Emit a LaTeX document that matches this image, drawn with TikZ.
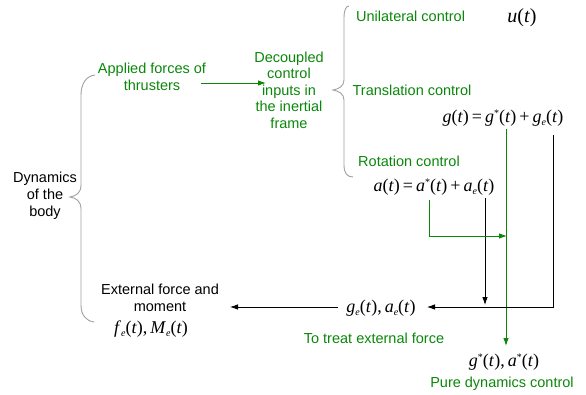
\documentclass[tikz,border=0pt]{standalone}
\usepackage{fontspec}
\setmainfont{Liberation Sans}
\newfontfamily\tms{Liberation Serif}
\usetikzlibrary{arrows.meta}
\definecolor{gr}{RGB}{10,135,10}
\definecolor{brc}{RGB}{160,160,160}
\newcommand{\vv}[1]{\textit{#1}}
\newcommand{\sbs}[1]{\raisebox{-0.35ex}{\fontsize{10}{10}\selectfont\itshape #1}}
\newcommand{\sps}[1]{\raisebox{0.75ex}{\fontsize{10}{10}\selectfont #1}}
\tikzset{
  gtext/.style={text=gr, align=center, font=\fontsize{14.5}{16.5}\selectfont, inner sep=0pt},
  btext/.style={text=black, align=center, font=\fontsize{14.5}{17}\selectfont, inner sep=0pt},
  mtext/.style={text=black, font=\fontsize{18}{18}\selectfont\tms, inner sep=0pt},
  gline/.style={draw=gr, line width=0.9pt},
  bline/.style={draw=black, line width=0.8pt},
  tip/.style={-{Latex[length=8pt,width=5.5pt]}},
  bracestyle/.style={draw=brc, line width=0.9pt}
}
\begin{document}
\begin{tikzpicture}[x=1pt,y=-1pt]
\useasboundingbox (0,0) rectangle (586,395);
% braces
\draw[bracestyle] (95,75) .. controls (86,76) and (81,84) .. (81,95) -- (81,185)
  .. controls (81,193) and (76,196) .. (70,197) .. controls (76,198) and (81,201) .. (81,209)
  -- (81,305) .. controls (81,315) and (86,321) .. (94,322);
\draw[bracestyle] (349,6) .. controls (346,6) and (344,10) .. (344,18) -- (344,80)
  .. controls (344,86) and (339,89) .. (333,90) .. controls (339,91) and (344,94) .. (344,100)
  -- (344,165) .. controls (344,173) and (347,177) .. (353,177);
% texts
\node[btext] (dyn) at (45,196) {Dynamics\\of the\\body};
\node[gtext] (applied) at (152,77) {Applied forces of\\thrusters};
\node[gtext] (decoupled) at (289,90) {Decoupled\\control\\inputs in\\the inertial\\frame};
\node[gtext, anchor=west] (uni) at (356,16) {Unilateral control};
\node[mtext, font=\fontsize{20}{20}\selectfont\tms] (ut) at (522,18) {\vv{u}(\vv{t})};
\node[gtext] (trans) at (412,90) {Translation control};
\node[mtext] (geq) at (503,118) {\vv{g}(\vv{t})\,=\,\vv{g}\sps{*}(\vv{t})\,+\,\vv{g}\sbs{e}(\vv{t})};
\node[gtext] (rot) at (409,161) {Rotation control};
\node[mtext] (aeq) at (434,187) {\vv{a}(\vv{t})\,=\,\vv{a}\sps{*}(\vv{t})\,+\,\vv{a}\sbs{e}(\vv{t})};
\node[mtext] (gea) at (381,308) {\vv{g}\sbs{e}(\vv{t}),\,\vv{a}\sbs{e}(\vv{t})};
\node[gtext] (treat) at (374,338) {To treat external force};
\node[mtext] (gsa) at (504,362) {\vv{g}\sps{*}(\vv{t}),\,\vv{a}\sps{*}(\vv{t})};
\node[gtext] (pure) at (502,384) {Pure dynamics control};
\node[btext] (ext) at (160,298) {External force and\\moment};
\node[mtext] (fm) at (151,329) {\vv{f}\sbs{e}(\vv{t}),\,\vv{M}\sbs{e}(\vv{t})};
% coordinates
\coordinate (gs) at (506,129);
\coordinate (gsend) at (506,346);
\coordinate (ge) at (553,135);
\coordinate (gecorner) at (553,307);
\coordinate (ae) at (485,198);
\coordinate (aeend) at (485,305);
\coordinate (as) at (429,200);
\coordinate (ascorner) at (429,236);
\coordinate (asend) at (507,236);
\coordinate (geatip) at (427,307);
\coordinate (geastart) at (338,307);
\coordinate (exttip) at (230,307);
\coordinate (appstart) at (201,83);
\coordinate (apptip) at (266,83);
% connectors
\draw[gline, tip] (appstart) -- (apptip);
\draw[gline, tip] (gs) -- (gsend);
\draw[bline, tip] (ge) -- (gecorner) -- (geatip);
\draw[bline, tip] (ae) -- (aeend);
\draw[gline, tip] (as) -- (ascorner) -- (asend);
\draw[bline, tip] (geastart) -- (exttip);
\end{tikzpicture}
\end{document}
